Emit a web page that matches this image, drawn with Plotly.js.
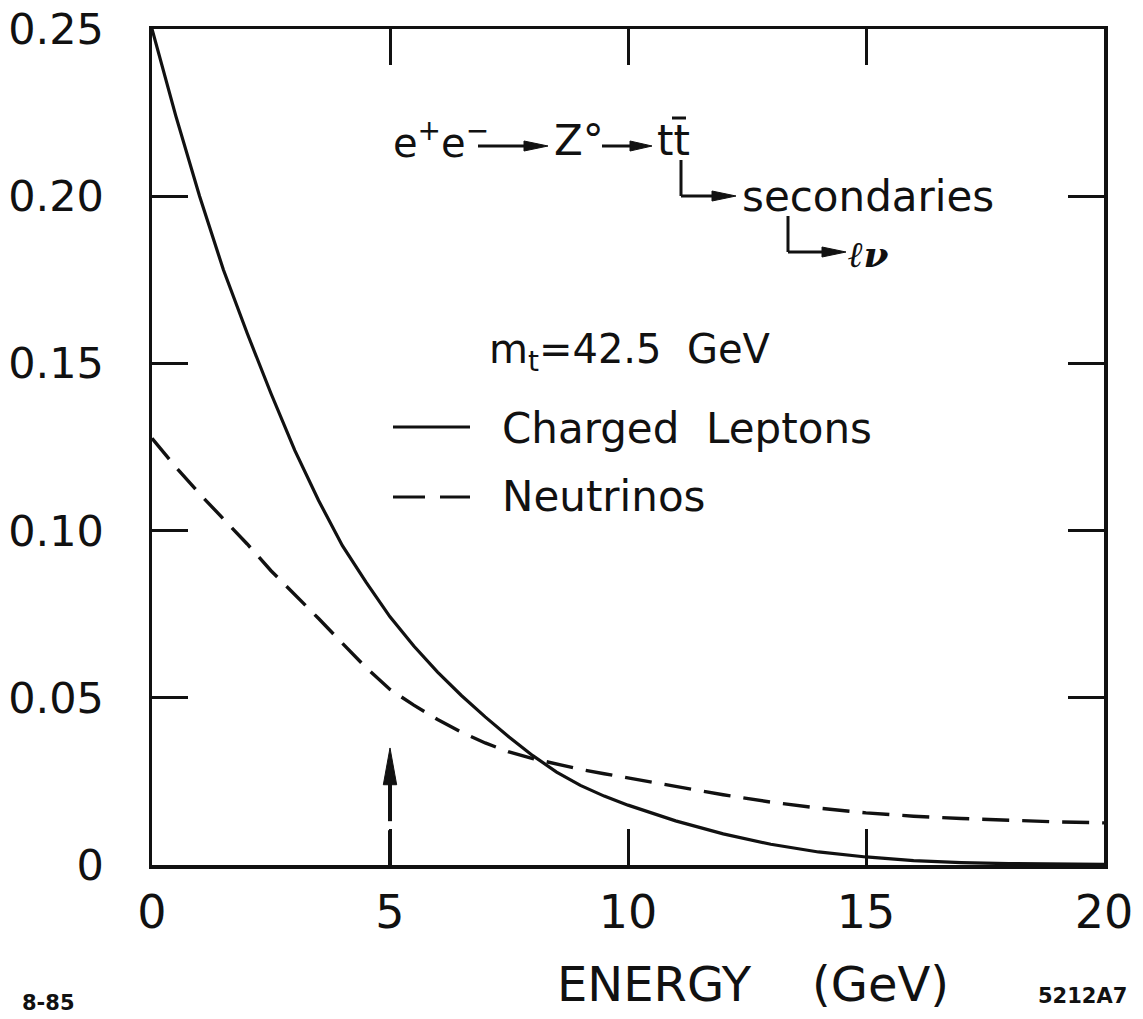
<!DOCTYPE html>
<html>
<head>
<meta charset="utf-8">
<script src="https://cdn.plot.ly/plotly-3.0.1.min.js"></script>
<style>
  html, body { margin: 0; padding: 0; background: #ffffff; }
  #chart { width: 1143px; height: 1019px; }
</style>
</head>
<body>
<div id="chart"></div>
<script>
// Lepton and neutrino energy spectra from t-tbar secondaries at the Z
const energy = [0, 0.5, 1, 1.5, 2, 2.5, 3, 3.5, 4, 4.5, 5, 5.5, 6, 6.5, 7, 7.5, 8, 8.5, 9, 9.5, 10,
                11, 12, 13, 14, 15, 16, 17, 18, 19, 20];
const chargedLeptons = [0.250, 0.224, 0.200, 0.178, 0.159, 0.141, 0.124, 0.109, 0.0955, 0.0845, 0.0742,
                        0.0655, 0.0577, 0.0507, 0.0443, 0.0383, 0.0327, 0.0278, 0.0238, 0.0206, 0.0179,
                        0.0132, 0.0093, 0.0062, 0.0039, 0.0024, 0.0013, 0.0007, 0.0004, 0.0003, 0.0002];
const neutrinos = [0.1276, 0.119, 0.111, 0.1035, 0.096, 0.088, 0.081, 0.0737, 0.0663, 0.0590, 0.0525,
                   0.0478, 0.0435, 0.0397, 0.0365, 0.0338, 0.0318, 0.0302, 0.0286, 0.0273, 0.0260,
                   0.0235, 0.0210, 0.0188, 0.0170, 0.0156, 0.0146, 0.0139, 0.0133, 0.0129, 0.0126];
const seriesNames = ['Charged  Leptons', 'Neutrinos'];

const xTickVals = [0, 5, 10, 15, 20];
const xTickText = ['0', '5', '10', '15', '20'];
const yTickVals = [0, 0.05, 0.10, 0.15, 0.20, 0.25];
const yTickText = ['0', '0.05', '0.10', '0.15', '0.20', '0.25'];

// energy marked by the vertical arrow, and the height of its tip
const markerEnergy = 5;
const markerTip = 0.035;

const W = 1143, H = 1019;
const M = { l: 152, r: 39, t: 29, b: 154 };
const plotW = W - M.l - M.r;
const plotH = H - M.t - M.b;
const X_RANGE = [0, 20], Y_RANGE = [0, 0.25];

// page pixel -> paper fraction, for the lettering and decorations
const px = x => (x - M.l) / plotW;
const py = y => (H - M.b - y) / plotH;

const FONT = 'DejaVu Sans, Liberation Sans, sans-serif';
const INK = '#111111';

function seg(x0, y0, x1, y1, w, dash) {
  return { type: 'line', xref: 'paper', yref: 'paper',
           x0: px(x0), y0: py(y0), x1: px(x1), y1: py(y1),
           line: { color: INK, width: w || 3, dash: dash || 'solid' } };
}
// slim filled arrowhead pointing right, tip at (xt, yt)
function headRight(xt, yt, len, half) {
  const p = `M ${px(xt)},${py(yt)} L ${px(xt - len)},${py(yt - half)} L ${px(xt - len)},${py(yt + half)} Z`;
  return { type: 'path', xref: 'paper', yref: 'paper', path: p,
           fillcolor: INK, line: { color: INK, width: 1 } };
}
function label(text, x, y, size, opts) {
  return Object.assign({ text: text, xref: 'paper', yref: 'paper', x: px(x), y: py(y),
           xanchor: 'left', yanchor: 'middle', showarrow: false,
           font: { family: FONT, size: size, color: INK } }, opts || {});
}

const traces = [
  { x: energy, y: chargedLeptons, name: seriesNames[0], type: 'scatter', mode: 'lines',
    line: { color: INK, width: 3.2 }, hoverinfo: 'skip' },
  { x: energy, y: neutrinos, name: seriesNames[1], type: 'scatter', mode: 'lines',
    line: { color: INK, width: 3.4, dash: '27px,13px' }, hoverinfo: 'skip' }
];

// vertical arrow at the marked energy, drawn in data units
const headLen = 0.0110, headHalf = 0.14;
const arrowShapes = [
  { type: 'line', xref: 'x', yref: 'y', x0: markerEnergy, x1: markerEnergy, y0: 0, y1: 0.0104,
    line: { color: INK, width: 4 } },
  { type: 'line', xref: 'x', yref: 'y', x0: markerEnergy, x1: markerEnergy, y0: 0.0131, y1: markerTip - headLen + 0.001,
    line: { color: INK, width: 4 } },
  { type: 'path', xref: 'x', yref: 'y',
    path: `M ${markerEnergy},${markerTip} L ${markerEnergy - headHalf},${markerTip - headLen} L ${markerEnergy + headHalf},${markerTip - headLen} Z`,
    fillcolor: INK, line: { color: INK, width: 1 } }
];

const decoShapes = [
  // e+e- -> Z -> t tbar
  seg(478, 146, 530, 146, 3), headRight(548, 146, 24, 5),
  seg(602, 146, 635, 146, 3), headRight(652, 146, 22, 5),
  seg(672, 118, 686, 118, 3),
  // tbar -> secondaries
  seg(681, 160, 681, 196, 3), seg(681, 196, 715, 196, 3), headRight(736, 196, 24, 5),
  // secondaries -> l nu
  seg(788, 216, 788, 252, 3), seg(788, 252, 825, 252, 3), headRight(846, 252, 24, 5),
  // key samples
  seg(393, 427, 470, 427, 3),
  seg(393, 497, 425, 497, 3), seg(440, 497, 470, 497, 3)
];

const annotations = [
  label('e<sup>+</sup>e<sup>\u2212</sup>', 391, 140, 40),
  label('Z\u00b0', 552, 140, 42),
  label('tt', 655, 140, 42),
  label('secondaries', 740, 196, 42),
  label('<b><i>\u2113\u03bd</i></b>', 846, 254, 36, { font: { family: 'DejaVu Serif, serif', size: 36, color: INK } }),
  label('m<sub>t</sub>=42.5  GeV', 487, 352, 40),
  label(seriesNames[0], 500, 428, 42),
  label(seriesNames[1], 500, 497, 42),
  label('ENERGY    (GeV)', 555, 984, 48),
  label('<b>8-85</b>', 20, 1003, 21),
  label('<b>5212A7</b>', 1036, 996, 21)
];

const axisCommon = {
  showline: true, linecolor: INK, linewidth: 3.5, mirror: 'ticks',
  ticks: 'inside', ticklen: 36, tickwidth: 3, tickcolor: INK,
  showgrid: false, zeroline: false, fixedrange: true,
  ticklabeloverflow: 'allow'
};

const layout = {
  width: W, height: H,
  margin: M,
  paper_bgcolor: '#ffffff', plot_bgcolor: '#ffffff',
  showlegend: false,
  xaxis: Object.assign({}, axisCommon, {
    range: X_RANGE, tickmode: 'array', tickvals: xTickVals, ticktext: xTickText,
    ticklabelstandoff: 4,
    tickfont: { family: FONT, size: 46, color: INK }
  }),
  yaxis: Object.assign({}, axisCommon, {
    range: Y_RANGE, tickmode: 'array', tickvals: yTickVals, ticktext: yTickText,
    ticklabelstandoff: 36,
    tickfont: { family: FONT, size: 43, color: INK }
  }),
  shapes: arrowShapes.concat(decoShapes),
  annotations: annotations
};

Plotly.newPlot('chart', traces, layout, { staticPlot: true, displayModeBar: false });
</script>
</body>
</html>
